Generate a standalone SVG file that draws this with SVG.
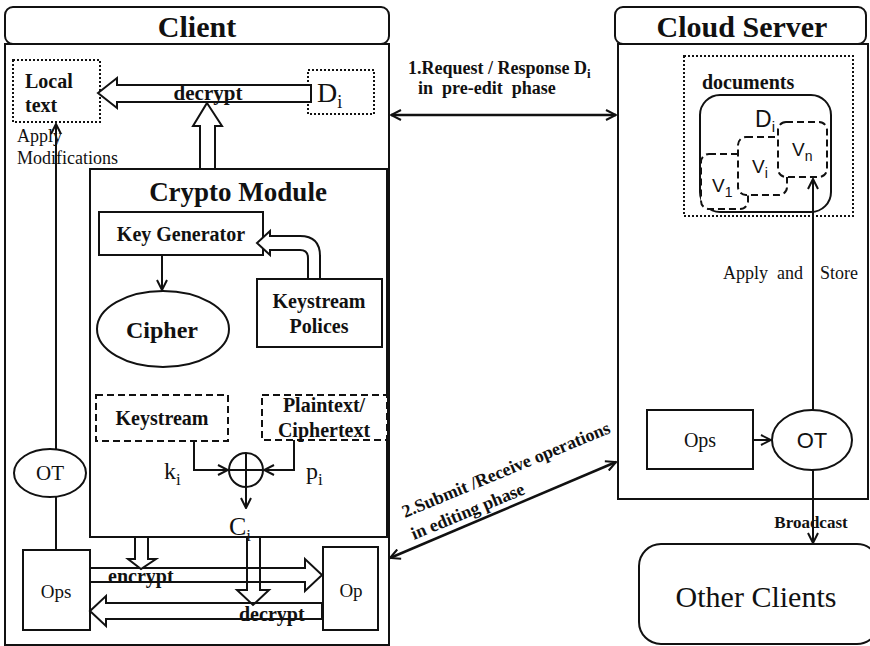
<svg xmlns="http://www.w3.org/2000/svg" width="870" height="646" viewBox="0 0 870 646">
<style>
.b{fill:#fff;stroke:#111;stroke-width:2}
.n{fill:none;stroke:#111;stroke-width:2}
.dot{fill:#fff;stroke:#111;stroke-width:2;stroke-dasharray:2,2}
.dash{fill:#fff;stroke:#111;stroke-width:2;stroke-dasharray:7,4}
.hol{fill:#fff;stroke:#111;stroke-width:2;stroke-linejoin:miter}
.ln{fill:none;stroke:#111;stroke-width:2}
.lk{fill:none;stroke:#111;stroke-width:2.5}
.sb{font-family:"Liberation Serif","Times New Roman",serif;font-weight:bold;fill:#111}
.sr{font-family:"Liberation Serif","Times New Roman",serif;fill:#111}
.ss{font-family:"Liberation Sans",Arial,sans-serif;fill:#111}
</style>
<defs>
<marker id="ar" viewBox="0 0 12 12" refX="11" refY="6" markerWidth="12" markerHeight="12" markerUnits="userSpaceOnUse" orient="auto-start-reverse">
<path d="M1,1 L11,6 L1,11" fill="none" stroke="#111" stroke-width="2"/>
</marker>
</defs>
<rect width="870" height="646" fill="#fff"/>

<g id="client">
<rect class="b" x="5" y="44" width="384" height="601"/>
<rect class="b" x="5" y="7" width="384" height="37" rx="8"/>
<text class="sb" x="197" y="37" font-size="30" text-anchor="middle">Client</text>
</g>

<g id="cloud-server">
<rect class="b" x="618" y="44" width="250" height="455"/>
<rect class="b" x="615" y="7" width="251" height="37" rx="8"/>
<text class="sb" x="742" y="37" font-size="30" text-anchor="middle">Cloud Server</text>
</g>

<g id="crypto-module">
<rect class="b" x="90" y="169" width="297" height="368"/>
<text class="sb" x="238" y="201" font-size="27" text-anchor="middle">Crypto Module</text>
</g>

<g id="local-text">
<rect class="dot" x="13" y="60" width="87" height="62"/>
<text class="sb" x="25" y="88" font-size="20">Local</text>
<text class="sb" x="25" y="112" font-size="20">text</text>
</g>

<g id="di-client">
<rect class="dot" x="308" y="70" width="66" height="44"/>
<text class="sr" x="317" y="102" font-size="28">D<tspan font-size="18" dy="6">i</tspan></text>
</g>

<g id="key-generator">
<rect class="b" x="99" y="212" width="164" height="43"/>
<text class="sb" x="181" y="241" font-size="20" text-anchor="middle">Key Generator</text>
</g>

<g id="keystream-polices">
<rect class="b" x="257" y="279" width="125" height="68"/>
<text class="sb" x="319" y="308" font-size="20" text-anchor="middle">Keystream</text>
<text class="sb" x="319" y="333" font-size="20" text-anchor="middle">Polices</text>
</g>

<g id="cipher">
<ellipse class="b" cx="163" cy="329" rx="66" ry="38"/>
<text class="sb" x="162" y="338" font-size="24" text-anchor="middle">Cipher</text>
</g>

<g id="keystream">
<rect class="dash" x="96" y="395" width="132" height="46"/>
<text class="sb" x="162" y="425" font-size="20" text-anchor="middle">Keystream</text>
</g>

<g id="plaintext">
<rect class="dash" x="262" y="395" width="125" height="45"/>
<text class="sb" x="324" y="412" font-size="20" text-anchor="middle">Plaintext/</text>
<text class="sb" x="324" y="437" font-size="20" text-anchor="middle">Ciphertext</text>
</g>

<g id="xor">
<circle class="b" cx="246" cy="470" r="17"/>
<path class="ln" d="M229,470 H263 M246,453 V487"/>
</g>

<g id="ot-client">
<ellipse class="b" cx="50" cy="473" rx="36" ry="24"/>
<text class="sr" x="50" y="480" font-size="21" text-anchor="middle">OT</text>
</g>

<g id="ops-client">
<rect class="b" x="23" y="550" width="67" height="80"/>
<text class="sr" x="56" y="598" font-size="19" text-anchor="middle">Ops</text>
</g>

<g id="op-client">
<rect class="b" x="323" y="547" width="55" height="83"/>
<text class="sr" x="351" y="597" font-size="19" text-anchor="middle">Op</text>
</g>

<g id="documents">
<rect class="dot" x="684" y="56" width="169" height="160"/>
<text class="sb" x="702" y="89" font-size="20">documents</text>
<rect class="b" x="700" y="95" width="131" height="117" rx="20"/>
<text class="ss" x="755" y="127" font-size="23">D<tspan font-size="15" dy="5">i</tspan></text>
<rect class="dash" x="701" y="154" width="47" height="55" rx="8"/>
<rect class="dash" x="738" y="137" width="49" height="58" rx="8"/>
<rect class="dash" x="778" y="122" width="49" height="55" rx="8"/>
<text class="ss" x="712" y="192" font-size="19">V<tspan font-size="14" dy="5">1</tspan></text>
<text class="ss" x="752" y="173" font-size="19">V<tspan font-size="14" dy="5">i</tspan></text>
<text class="ss" x="792" y="156" font-size="19">V<tspan font-size="14" dy="5">n</tspan></text>
</g>

<g id="ops-server">
<rect class="b" x="647" y="410" width="106" height="59"/>
<text class="sr" x="700" y="447" font-size="20" text-anchor="middle">Ops</text>
</g>

<g id="ot-server">
<ellipse class="b" cx="812" cy="440" rx="40" ry="30"/>
<text class="ss" x="812" y="448" font-size="22" text-anchor="middle">OT</text>
</g>

<g id="other-clients">
<rect class="b" x="639" y="544" width="240" height="100" rx="22"/>
<text class="sr" x="756" y="607" font-size="30" text-anchor="middle">Other Clients</text>
</g>

<g id="connectors">
<polygon class="hol" points="98,93 117,78 117,85 311,85 311,102 117,102 117,108"/>
<text class="sb" x="208" y="100" font-size="21" text-anchor="middle">decrypt</text>
<polygon class="hol" points="207,103 222,126 215,126 215,169 200,169 200,126 193,126"/>
<path class="hol" d="M308,279 L308,258 Q308,250 300,250 L270,250 L270,255 L257,243 L270,231 L270,236 L300,236 Q320,236 320,256 L320,279 Z"/>
<line class="ln" x1="162" y1="255" x2="162" y2="290" marker-end="url(#ar)"/>
<polyline class="ln" points="194,441 194,470 228,470" marker-end="url(#ar)"/>
<polyline class="ln" points="294,440 294,470 264,470" marker-end="url(#ar)"/>
<line class="ln" x1="246" y1="487" x2="246" y2="508" marker-end="url(#ar)"/>
<text class="sr" x="164" y="479" font-size="24">k<tspan font-size="17" dy="6">i</tspan></text>
<text class="sr" x="306" y="479" font-size="24">p<tspan font-size="17" dy="6">i</tspan></text>
<text class="sr" x="240" y="535" font-size="26" text-anchor="middle">C<tspan font-size="17" dy="6">i</tspan></text>
<line class="ln" x1="56" y1="550" x2="56" y2="497"/>
<line class="ln" x1="56" y1="449" x2="56" y2="124" marker-end="url(#ar)"/>
<text class="sr" x="17" y="142" font-size="18">Apply</text>
<text class="sr" x="17" y="164" font-size="18">Modifications</text>
<polygon class="hol" points="90,568 305,568 305,559 322,575 305,591 305,582 90,582"/>
<polygon class="hol" points="322,603 106,603 106,596 90,611 106,626 106,619 322,619"/>
<polygon class="hol" points="135,537 148,537 148,559 156,559 141,569 128,559 135,559"/>
<polygon fill="none" stroke="#111" stroke-width="2" points="247,537 260,537 260,590 269,590 253,605 237,590 247,590"/>
<text class="sb" x="108" y="583" font-size="20">encrypt</text>
<text class="sb" x="239" y="621" font-size="20">decrypt</text>
<line class="lk" x1="391" y1="115" x2="616" y2="115" marker-start="url(#ar)" marker-end="url(#ar)"/>
<text class="sb" x="408" y="74" font-size="18">1.Request / Response D<tspan font-size="13" dy="4">i</tspan></text>
<text class="sb" x="418" y="94" font-size="18" xml:space="preserve">in  pre-edit  phase</text>
<line class="lk" x1="390" y1="558" x2="616" y2="462" marker-start="url(#ar)" marker-end="url(#ar)"/>
<text class="sb" font-size="18" transform="translate(405,518) rotate(-22.5)">2.Submit /Receive operations</text>
<text class="sb" font-size="18" transform="translate(414,540) rotate(-22.5)">in editing phase</text>
<line class="ln" x1="753" y1="440" x2="771" y2="440" marker-end="url(#ar)"/>
<line class="ln" x1="813" y1="410" x2="813" y2="179" marker-end="url(#ar)"/>
<line class="ln" x1="813" y1="470" x2="813" y2="543" marker-end="url(#ar)"/>
<text class="sr" x="723" y="279" font-size="18" xml:space="preserve">Apply  and</text>
<text class="sr" x="820" y="279" font-size="18">Store</text>
<text class="sb" x="811" y="528" font-size="17" text-anchor="middle">Broadcast</text>
</g>
</svg>
